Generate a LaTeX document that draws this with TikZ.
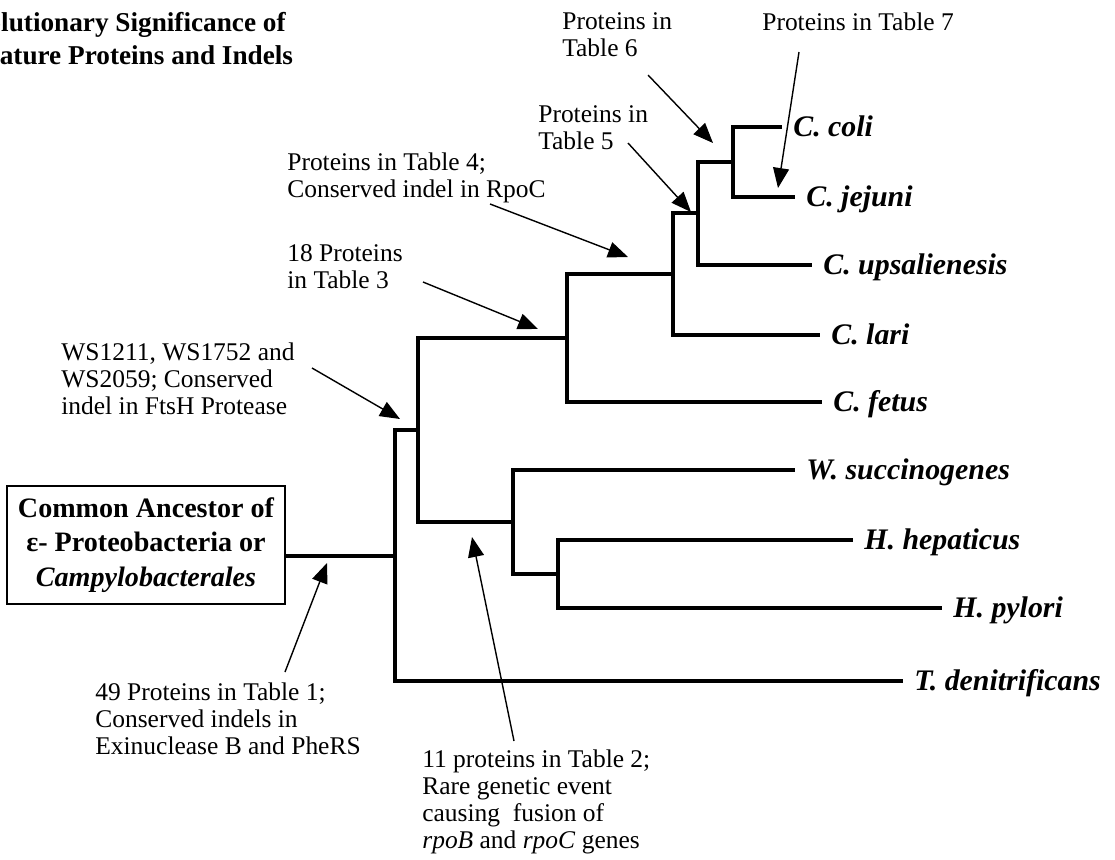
\documentclass[tikz,border=0pt]{standalone}
\usepackage{fontspec}
\setmainfont{Liberation Serif}
\usetikzlibrary{arrows.meta}

\begin{document}
\begin{tikzpicture}[
  x=0.02cm, y=-0.02cm,
  branch/.style={line width=2.2pt},
  species/.style={anchor=west, inner xsep=0.22cm, inner ysep=0pt,
                  text height=11pt, text depth=0pt,
                  font=\fontsize{17}{20}\selectfont\bfseries\itshape},
  note/.style={anchor=north west, align=left, inner sep=0pt,
               font=\fontsize{14.5}{15.5}\selectfont},
  pointer/.style={line width=0.8pt, -{Triangle[length=0.4cm, width=0.32cm]}},
  ancestor/.style={draw, line width=1.1pt, align=center, inner sep=2pt,
                   minimum width=5.56cm, minimum height=2.36cm,
                   font=\fontsize{16}{19.5}\selectfont\bfseries}
]
  \useasboundingbox (0,0) rectangle (1115,859);
  \clip (0,0) rectangle (1115,859);

  % title, cut at the left edge
  \node[anchor=north west, align=center, inner sep=0pt,
        font=\fontsize{15.5}{18.8}\selectfont\bfseries] (title) at (-52,12)
        {Evolutionary Significance of\\Signature Proteins and Indels};

  \node[ancestor] (anc) at (146,545)
        {Common Ancestor of\\ε- Proteobacteria or\\\textit{Campylobacterales}};

  % inner nodes of the tree
  \coordinate (root)  at (395,556);
  \coordinate (ca)    at (418,430);
  \coordinate (campy) at (567,338);
  \coordinate (cs)    at (673,274);
  \coordinate (cu)    at (698,213);
  \coordinate (cc)    at (733,162);
  \coordinate (wh)    at (513,522);
  \coordinate (hh)    at (558,574);

  % leaves
  \node[species] (coli)   at (782,127) {C. coli};
  \node[species] (jejuni) at (795,197) {C. jejuni};
  \node[species] (upsal)  at (812,265) {C. upsalienesis};
  \node[species] (lari)   at (820,335) {C. lari};
  \node[species] (fetus)  at (822,402) {C. fetus};
  \node[species] (wsuc)   at (795,470) {W. succinogenes};
  \node[species] (hhep)   at (853,540) {H. hepaticus};
  \node[species] (hpyl)   at (942,608) {H. pylori};
  \node[species] (tden)   at (903,681) {T. denitrificans};

  \draw[branch] (anc.east |- root) -- (root);
  \draw[branch] (root) |- (ca) (root) |- (tden.west);
  \draw[branch] (ca) |- (campy) (ca) |- (wh);
  \draw[branch] (campy) |- (cs) (campy) |- (fetus.west);
  \draw[branch] (cs) |- (cu) (cs) |- (lari.west);
  \draw[branch] (cu) |- (cc) (cu) |- (upsal.west);
  \draw[branch] (cc) |- (coli.west) (cc) |- (jejuni.west);
  \draw[branch] (wh) |- (wsuc.west) (wh) |- (hh);
  \draw[branch] (hh) |- (hhep.west) (hh) |- (hpyl.west);

  % notes and their arrows
  \node[note] (t6) at (562,12) {Proteins in\\Table 6};
  \node[note] (t7) at (762,12) {Proteins in Table 7};
  \node[note] (t5) at (538,105) {Proteins in\\Table 5};
  \node[note] (t4) at (287,152) {Proteins in Table 4;\\Conserved indel in RpoC};
  \node[note] (t3) at (287,244) {18 Proteins\\in Table 3};
  \node[note] (ws) at (61,342) {WS1211, WS1752 and\\WS2059; Conserved\\indel in FtsH Protease};
  \node[note] (t1) at (95,682) {49 Proteins in Table 1;\\Conserved indels in\\Exinuclease B and PheRS};
  \node[note] (t2) at (422,749) {11 proteins in Table 2;\\Rare genetic event\\causing\ \ fusion of\\\textit{rpoB} and \textit{rpoC} genes};

  \coordinate (t6a) at (648,75);  \coordinate (t6b) at (713,143);
  \coordinate (t7a) at (799,52);  \coordinate (t7b) at (778,188);
  \coordinate (t5a) at (628,143); \coordinate (t5b) at (691,212);
  \coordinate (t4a) at (490,204); \coordinate (t4b) at (628,257);
  \coordinate (t3a) at (423,282); \coordinate (t3b) at (538,329);
  \coordinate (wsa) at (312,368); \coordinate (wsb) at (400,419);
  \coordinate (t1a) at (285,672); \coordinate (t1b) at (327,563);
  \coordinate (t2a) at (514,741); \coordinate (t2b) at (472,537);

  \foreach \p in {t6,t7,t5,t4,t3,ws,t1,t2}
    \draw[pointer] (\p a) -- (\p b);
\end{tikzpicture}
\end{document}
